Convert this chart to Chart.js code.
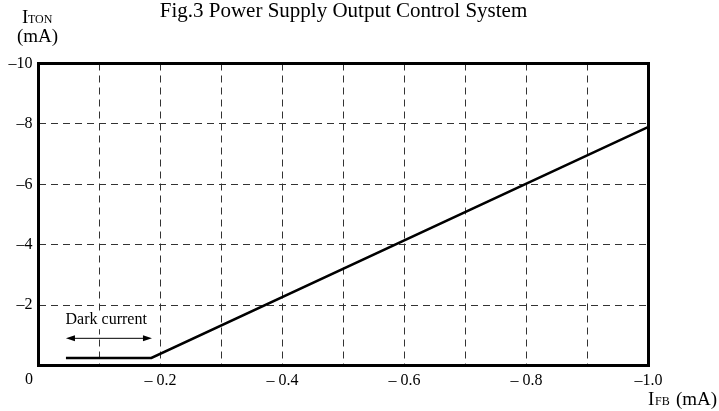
<!DOCTYPE html>
<html>
<head>
<meta charset="utf-8">
<script src="https://cdn.jsdelivr.net/npm/chart.js@4"></script>
<style>
  html, body { margin: 0; padding: 0; background: #fff; }
  canvas { display: block; }
</style>
</head>
<body>
<canvas id="grafico" width="719" height="411"></canvas>
<script>
// Dados
const correnteFB = [-0.045, -0.185, -1.0];   // I_FB (mA)
const correnteTON = [-0.25, -0.25, -7.9];    // I_TON (mA)

const limitesX = [0, -1.0];
const limitesY = [0, -10];

// Seta "Dark current"
const setaX = [-0.045, -0.186];
const setaY = -0.9;
const textoDark = 'Dark current';
const textoDarkPos = [-0.111, -1.5];

const titulo = 'Fig.3 Power Supply Output Control System';
const serif = '"Liberation Serif", "DejaVu Serif", serif';

// Fundo branco atrás do texto (a grade não passa pelo texto)
const fundoTexto = {
    id: 'fundoTexto',
    beforeDatasetsDraw(chart) {
        const ctx = chart.ctx;
        const x = chart.scales.x;
        const y = chart.scales.y;
        ctx.save();
        ctx.font = '16px ' + serif;
        const w = ctx.measureText(textoDark).width;
        const cx = x.getPixelForValue(textoDarkPos[0]);
        const cy = y.getPixelForValue(textoDarkPos[1]);
        ctx.fillStyle = '#fff';
        ctx.fillRect(cx - w / 2 - 2, cy - 9, w + 4, 18);
        ctx.restore();
    }
};

// Plugin para moldura, título, seta e rótulos dos eixos
const extras = {
    id: 'extras',
    afterDraw(chart) {
        const ctx = chart.ctx;
        const area = chart.chartArea;
        const x = chart.scales.x;
        const y = chart.scales.y;
        ctx.save();

        // moldura
        ctx.strokeStyle = '#000';
        ctx.lineWidth = 3;
        ctx.strokeRect(area.left, area.top, area.right - area.left, area.bottom - area.top);

        // título
        ctx.fillStyle = '#000';
        ctx.font = '21px ' + serif;
        ctx.textAlign = 'center';
        ctx.textBaseline = 'alphabetic';
        ctx.fillText(titulo, (area.left + area.right) / 2, 17);

        // "0" no canto
        ctx.font = '16px ' + serif;
        ctx.textBaseline = 'middle';
        ctx.fillText('0', 29, 380);

        // seta dupla
        const x1 = x.getPixelForValue(setaX[0]);
        const x2 = x.getPixelForValue(setaX[1]);
        const ys = y.getPixelForValue(setaY);
        ctx.lineWidth = 1;
        ctx.beginPath();
        ctx.moveTo(x1 + 6, ys);
        ctx.lineTo(x2 - 6, ys);
        ctx.stroke();
        ctx.beginPath();
        ctx.moveTo(x1, ys);
        ctx.lineTo(x1 + 9, ys - 3);
        ctx.lineTo(x1 + 9, ys + 3);
        ctx.closePath();
        ctx.moveTo(x2, ys);
        ctx.lineTo(x2 - 9, ys - 3);
        ctx.lineTo(x2 - 9, ys + 3);
        ctx.closePath();
        ctx.fill();

        ctx.font = '16px ' + serif;
        ctx.textAlign = 'center';
        ctx.textBaseline = 'middle';
        ctx.fillText(textoDark, x.getPixelForValue(textoDarkPos[0]), y.getPixelForValue(textoDarkPos[1]));

        // rótulo do eixo Y: I_TON (mA)
        ctx.textAlign = 'left';
        ctx.textBaseline = 'alphabetic';
        ctx.font = '19px ' + serif;
        ctx.fillText('I', 22, 23);
        ctx.font = '12px ' + serif;
        ctx.fillText('TON', 28, 23);
        ctx.font = '19px ' + serif;
        ctx.fillText('(mA)', 17, 42);

        // rótulo do eixo X: I_FB (mA)
        ctx.font = '19px ' + serif;
        ctx.fillText('I', 648, 405);
        ctx.font = '12px ' + serif;
        ctx.fillText('FB', 655, 405);
        ctx.font = '19px ' + serif;
        ctx.fillText('(mA)', 676, 405);

        ctx.restore();
    }
};

function corGrade(limites) {
    return c => (Math.abs(c.tick.value - limites[0]) < 1e-6 || Math.abs(c.tick.value - limites[1]) < 1e-6)
        ? 'rgba(0,0,0,0)' : '#333';
}

new Chart(document.getElementById('grafico').getContext('2d'), {
    type: 'scatter',
    data: {
        datasets: [{
            data: correnteFB.map((v, i) => ({ x: v, y: correnteTON[i] })),
            showLine: true,
            borderColor: '#000',
            borderWidth: 2.5,
            pointRadius: 0,
            tension: 0
        }]
    },
    options: {
        responsive: false,
        animation: false,
        devicePixelRatio: 1,
        layout: { padding: { top: 63.5, right: 70.5, left: 0, bottom: 0 } },
        plugins: { legend: { display: false }, tooltip: { enabled: false }, title: { display: false } },
        scales: {
            x: {
                type: 'linear',
                min: -1.0,
                max: 0,
                reverse: true,
                afterFit: s => { s.height = 45.5; },
                border: { display: false, dash: [7, 5] },
                grid: { color: corGrade(limitesX), lineWidth: 1, drawTicks: false },
                ticks: {
                    stepSize: 0.1,
                    autoSkip: false,
                    maxRotation: 0,
                    padding: 6,
                    color: '#000',
                    font: { family: serif, size: 16 },
                    callback: v => {
                        const n = Math.round(v * 10);
                        if (n === 0 || n % 2 !== 0) return '';
                        if (n === -10) return '–1.0';
                        return '– 0.' + Math.abs(n);
                    }
                }
            },
            y: {
                type: 'linear',
                min: -10,
                max: 0,
                reverse: true,
                afterFit: s => { s.width = 38.5; },
                border: { display: false, dash: [7, 5] },
                grid: { color: corGrade(limitesY), lineWidth: 1, drawTicks: false },
                ticks: {
                    stepSize: 2,
                    padding: 6,
                    color: '#000',
                    font: { family: serif, size: 16 },
                    callback: v => v === 0 ? '' : '–' + Math.abs(v)
                }
            }
        }
    },
    plugins: [fundoTexto, extras]
});
</script>
</body>
</html>
